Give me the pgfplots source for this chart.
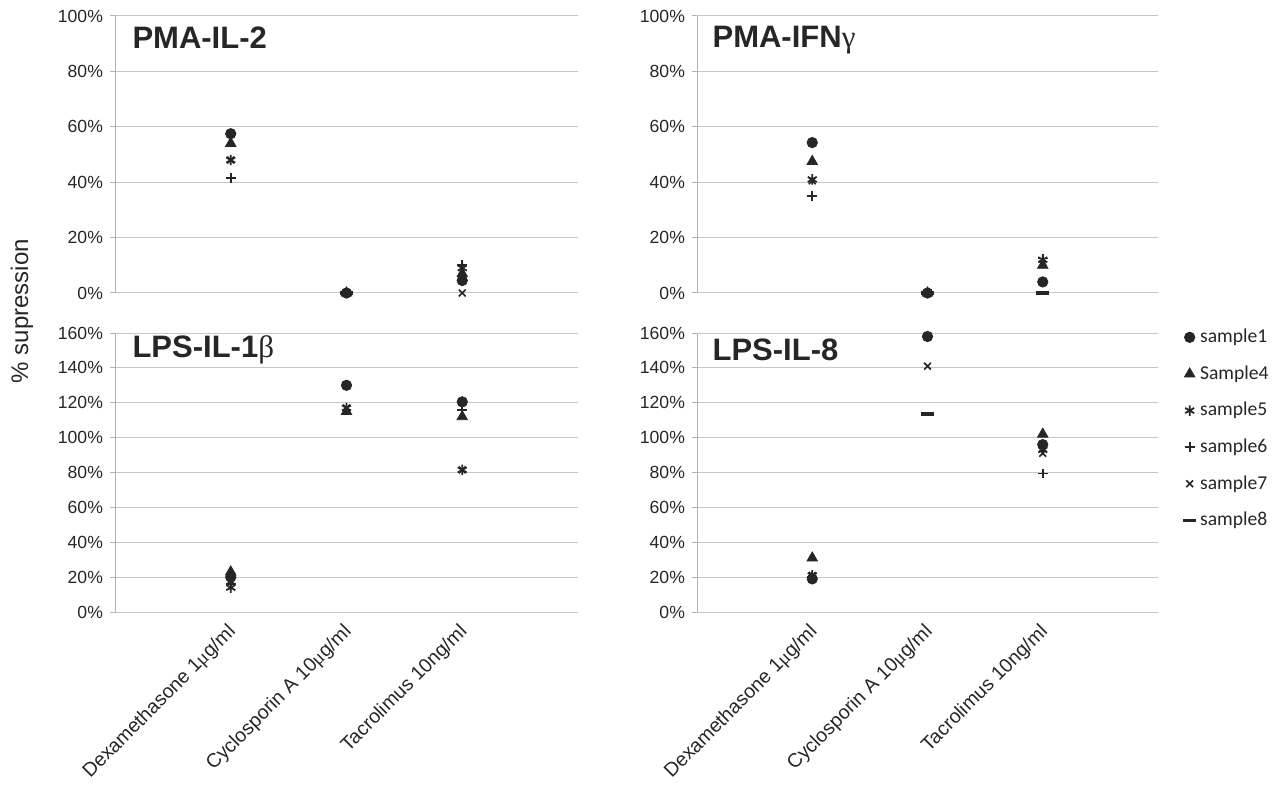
\documentclass[border=0pt]{standalone}
\usepackage{pgfplots}
\pgfplotsset{compat=1.18}
\usepackage{fontspec}
\setmainfont{Liberation Sans}
\newfontfamily\legfont{Carlito}
\newfontfamily\gr{Liberation Serif}
\tikzset{ttl/.style={anchor=west, inner sep=0pt, text=black!85, font=\fontsize{15.5}{17}\selectfont\bfseries}}
\pgfplotsset{
 s1/.style={only marks, mark=*, mark size=2.6pt, color=black!85},
 s4/.style={only marks, mark=triangle*, mark size=3pt, color=black!85},
 s5/.style={only marks, mark=asterisk, mark size=2.6pt, color=black!85, mark options={line width=0.9pt}},
 s6/.style={only marks, mark=+, mark size=2.4pt, color=black!85, mark options={line width=0.8pt}},
 s7/.style={only marks, mark=x, mark size=2.4pt, color=black!85, mark options={line width=0.8pt}},
 s8/.style={only marks, mark=-, mark size=3.2pt, color=black!85, mark options={line width=1.8pt}},
 panel/.style={
   scale only axis, anchor=south west,
   xmin=0, xmax=4, xtick={1,2,3},
   axis lines=left, axis line style={-, gray!60},
   x axis line style={draw=none},
   xtick style={draw=none},
   ytick style={gray!60, line width=0.5pt},
   tick align=outside, major tick length=2.5pt,
   ymajorgrids, grid style={gray!45, line width=0.5pt},
   /pgf/number format/assume math mode=true,
   yticklabel={\pgfmathprintnumber{\tick}\%},
   yticklabel style={font=\fontsize{8.8}{10}\selectfont, text=black!85},
   xticklabel style={font=\fontsize{9.8}{11}\selectfont, text=black!85, rotate=45, anchor=east, yshift=-5pt},
   clip=false,
 },
 toppanel/.style={panel, ymin=0, ymax=100, ytick={0,20,...,100}, xticklabels={}, height=138.5pt},
 botpanel/.style={panel, ymin=0, ymax=160, ytick={0,20,...,160}, height=139.5pt,
   xticklabels={Dexamethasone 1{\gr μ}g/ml, Cyclosporin A 10{\gr μ}g/ml, Tacrolimus 10ng/ml}},
}
\begin{document}
\begin{tikzpicture}
\useasboundingbox (0,0) rectangle (643.5pt,399.5pt);
\node[rotate=90, font=\fontsize{12}{14}\selectfont, text=black!85] at (11pt,244pt) {\% supression};

% PMA-IL-2
\begin{axis}[toppanel, at={(57.5pt,253pt)}, width=231.5pt]
\addplot[s1] coordinates {(1,57.5) (2,0) (3,4.5)};
\addplot[s4] coordinates {(1,54) (2,0) (3,7)};
\addplot[s5] coordinates {(1,48) (2,0) (3,9)};
\addplot[s6] coordinates {(1,41.5) (2,0) (3,10)};
\addplot[s7] coordinates {(1,48) (2,0) (3,0)};
\addplot[s8] coordinates {(2,0)};
\node[ttl] at (rel axis cs:0.037,0.92) {PMA-IL-2};
\end{axis}

% PMA-IFNg
\begin{axis}[toppanel, at={(348.5pt,253pt)}, width=230.5pt]
\addplot[s1] coordinates {(1,54.3) (2,0) (3,4)};
\addplot[s4] coordinates {(1,47.5) (2,0) (3,10)};
\addplot[s5] coordinates {(1,41) (2,0) (3,12)};
\addplot[s6] coordinates {(1,35) (2,0) (3,12.5)};
\addplot[s7] coordinates {(1,40.5) (2,0) (3,10.5)};
\addplot[s8] coordinates {(2,0) (3,0)};
\node[ttl] at (rel axis cs:0.033,0.913) {PMA-IFN{\gr\mdseries γ}};
\end{axis}

% LPS-IL-1b
\begin{axis}[botpanel, at={(57.5pt,93.5pt)}, width=231.5pt]
\addplot[s1] coordinates {(1,20) (2,130) (3,120.5)};
\addplot[s4] coordinates {(1,23) (2,115) (3,112)};
\addplot[s5] coordinates {(1,14) (2,117) (3,81.5)};
\addplot[s6] coordinates {(1,16) (2,116) (3,116)};
\addplot[s7] coordinates {(1,18) (2,117) (3,81.5)};
\node[ttl] at (rel axis cs:0.037,0.94) {LPS-IL-1{\gr\mdseries β}};
\end{axis}

% LPS-IL-8
\begin{axis}[botpanel, at={(348.5pt,93.5pt)}, width=230.5pt,
  legend style={at={(1.054,1.03)}, anchor=north west, draw=none, fill=none,
    font=\legfont\fontsize{9.8}{11}\selectfont, row sep=6pt, inner sep=0pt,
    cells={anchor=west}, text=black!85},
  legend image code/.code={\draw[#1] plot[only marks] coordinates {(0.12cm,0cm)};}]
\addlegendimage{s1}\addlegendentry{sample1}
\addlegendimage{s4}\addlegendentry{Sample4}
\addlegendimage{s5}\addlegendentry{sample5}
\addlegendimage{s6}\addlegendentry{sample6}
\addlegendimage{s7}\addlegendentry{sample7}
\addlegendimage{s8}\addlegendentry{sample8}
\addplot[s1, forget plot] coordinates {(1,19) (2,158) (3,96)};
\addplot[s4, forget plot] coordinates {(1,31) (3,102)};
\addplot[s5, forget plot] coordinates {(1,21) (3,93)};
\addplot[s6, forget plot] coordinates {(1,20) (3,79.5)};
\addplot[s7, forget plot] coordinates {(1,21) (2,141) (3,91)};
\addplot[s8, forget plot] coordinates {(2,113.5)};
\node[ttl] at (rel axis cs:0.033,0.94) {LPS-IL-8};
\end{axis}
\end{tikzpicture}
\end{document}
